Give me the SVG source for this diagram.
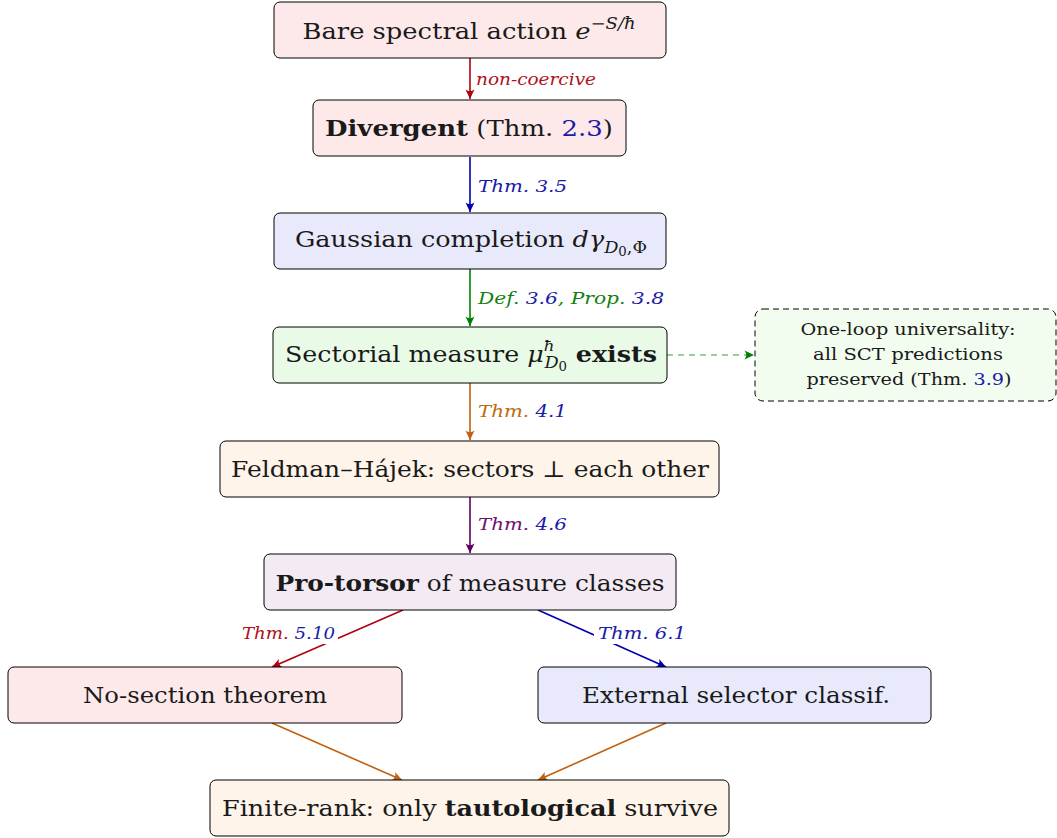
<svg xmlns="http://www.w3.org/2000/svg" width="1057" height="838" viewBox="0 0 1057 838">
<style>
.box{stroke:#000;stroke-width:1;}
.t{font-family:"DejaVu Serif","Liberation Serif",serif;font-size:23px;fill:#1a1a1a;text-anchor:middle;}
.n{font-family:"DejaVu Serif","Liberation Serif",serif;font-size:17px;fill:#1a1a1a;text-anchor:middle;}
.lab{font-family:"DejaVu Serif","Liberation Serif",serif;font-size:16px;font-style:italic;}
.e{fill:none;stroke-width:1.6;}
.b{font-weight:bold;}
.i{font-style:italic;}
.ref{fill:#1a1aa8;}
</style>
<defs>
<marker id="mr" markerWidth="12" markerHeight="10" refX="10" refY="5" orient="auto" markerUnits="userSpaceOnUse"><path d="M10,5 L0.5,0.5 Q4,5 0.5,9.5 Z" fill="#b00010"/></marker>
<marker id="mb" markerWidth="12" markerHeight="10" refX="10" refY="5" orient="auto" markerUnits="userSpaceOnUse"><path d="M10,5 L0.5,0.5 Q4,5 0.5,9.5 Z" fill="#0000b0"/></marker>
<marker id="mg" markerWidth="12" markerHeight="10" refX="10" refY="5" orient="auto" markerUnits="userSpaceOnUse"><path d="M10,5 L0.5,0.5 Q4,5 0.5,9.5 Z" fill="#008000"/></marker>
<marker id="mo" markerWidth="12" markerHeight="10" refX="10" refY="5" orient="auto" markerUnits="userSpaceOnUse"><path d="M10,5 L0.5,0.5 Q4,5 0.5,9.5 Z" fill="#c06010"/></marker>
<marker id="mp" markerWidth="12" markerHeight="10" refX="10" refY="5" orient="auto" markerUnits="userSpaceOnUse"><path d="M10,5 L0.5,0.5 Q4,5 0.5,9.5 Z" fill="#600060"/></marker>
</defs>

<g id="connectors">
<line class="e" x1="470" y1="58" x2="470" y2="99" stroke="#b00010" marker-end="url(#mr)"/>
<text class="lab" x="476" y="85" fill="#b01020" textLength="120" lengthAdjust="spacingAndGlyphs">non-coercive</text>
<line class="e" x1="470" y1="157" x2="470" y2="212" stroke="#0000b0" marker-end="url(#mb)"/>
<text class="lab ref" x="478" y="192" textLength="89" lengthAdjust="spacingAndGlyphs">Thm. 3.5</text>
<line class="e" x1="470" y1="269" x2="470" y2="326" stroke="#008000" marker-end="url(#mg)"/>
<text class="lab" x="478" y="304" fill="#108010" textLength="186" lengthAdjust="spacingAndGlyphs">Def. <tspan class="ref">3.6</tspan>, Prop. <tspan class="ref">3.8</tspan></text>
<line x1="667" y1="355" x2="754" y2="355" stroke="#33a033" stroke-width="1.2" stroke-dasharray="6,5" fill="none" marker-end="url(#mg)"/>
<line class="e" x1="470" y1="383" x2="470" y2="440" stroke="#c06010" marker-end="url(#mo)"/>
<text class="lab" x="478" y="417" fill="#c06a10" textLength="89" lengthAdjust="spacingAndGlyphs">Thm. <tspan class="ref">4.1</tspan></text>
<line class="e" x1="470" y1="497" x2="470" y2="553" stroke="#600060" marker-end="url(#mp)"/>
<text class="lab" x="478" y="530" fill="#701070" textLength="89" lengthAdjust="spacingAndGlyphs">Thm. <tspan class="ref">4.6</tspan></text>
<line class="e" x1="403" y1="610" x2="272" y2="667" stroke="#b00010" marker-end="url(#mr)"/>
<rect x="238" y="621" width="100" height="23" fill="#fff"/>
<text class="lab" x="242" y="639" fill="#b01020" textLength="93" lengthAdjust="spacingAndGlyphs">Thm. <tspan class="ref">5.10</tspan></text>
<line class="e" x1="538" y1="610" x2="666" y2="667" stroke="#0000b0" marker-end="url(#mb)"/>
<rect x="594" y="621" width="96" height="23" fill="#fff"/>
<text class="lab ref" x="598" y="639" textLength="88" lengthAdjust="spacingAndGlyphs">Thm. 6.1</text>
<line class="e" x1="272" y1="723" x2="402" y2="780" stroke="#c06010" marker-end="url(#mo)"/>
<line class="e" x1="666" y1="723" x2="538" y2="780" stroke="#c06010" marker-end="url(#mo)"/>
</g>

<g id="n1">
<rect class="box" x="274" y="2" width="392" height="56" rx="6" fill="#fde9ea"/>
<text class="t" x="469" y="39" textLength="333" lengthAdjust="spacingAndGlyphs">Bare spectral action <tspan class="i">e</tspan><tspan class="i" font-size="16" dy="-10">−S/ħ</tspan></text>
</g>
<g id="n2">
<rect class="box" x="313" y="100" width="313" height="56" rx="6" fill="#fde9ea"/>
<text class="t" x="469" y="136" textLength="288" lengthAdjust="spacingAndGlyphs"><tspan class="b">Divergent</tspan> (Thm. <tspan class="ref">2.3</tspan>)</text>
</g>
<g id="n3">
<rect class="box" x="274" y="213" width="392" height="56" rx="6" fill="#e9e9fc"/>
<text class="t" x="471" y="247" textLength="352" lengthAdjust="spacingAndGlyphs">Gaussian completion <tspan class="i">dγ</tspan><tspan font-size="16" dy="6"><tspan class="i">D</tspan><tspan font-size="12" dy="3">0</tspan><tspan dy="-3">,Φ</tspan></tspan></text>
</g>
<g id="n4">
<rect class="box" x="273" y="327" width="394" height="56" rx="6" fill="#e9fbe7"/>
<text class="t" x="471" y="362" textLength="372" lengthAdjust="spacingAndGlyphs">Sectorial measure <tspan class="i">μ</tspan><tspan class="i" font-size="15" dy="-11">ħ</tspan><tspan font-size="16" dx="-9" dy="17"><tspan class="i">D</tspan><tspan font-size="12" dy="3">0</tspan></tspan><tspan class="b" dy="-9"> exists</tspan></text>
</g>
<g id="n5">
<rect x="755" y="309" width="301" height="92" rx="8" fill="#f2fdf0" stroke="#000" stroke-width="1" stroke-dasharray="6,4"/>
<text class="n" x="908" y="335" textLength="215" lengthAdjust="spacingAndGlyphs">One-loop universality:</text>
<text class="n" x="908" y="360" textLength="190" lengthAdjust="spacingAndGlyphs">all SCT predictions</text>
<text class="n" x="909" y="385" textLength="205" lengthAdjust="spacingAndGlyphs">preserved (Thm. <tspan class="ref">3.9</tspan>)</text>
</g>
<g id="n6">
<rect class="box" x="220" y="441" width="499" height="56" rx="6" fill="#fef4ea"/>
<text class="t" x="470" y="477" textLength="478" lengthAdjust="spacingAndGlyphs">Feldman–Hájek: sectors ⊥ each other</text>
</g>
<g id="n7">
<rect class="box" x="264" y="554" width="412" height="56" rx="6" fill="#f4eaf4"/>
<text class="t" x="470" y="591" textLength="389" lengthAdjust="spacingAndGlyphs"><tspan class="b">Pro-torsor</tspan> of measure classes</text>
</g>
<g id="n8">
<rect class="box" x="8" y="667" width="394" height="56" rx="6" fill="#fde9ea"/>
<text class="t" x="205" y="703" textLength="244" lengthAdjust="spacingAndGlyphs">No-section theorem</text>
</g>
<g id="n9">
<rect class="box" x="538" y="667" width="393" height="56" rx="6" fill="#e9e9fc"/>
<text class="t" x="736" y="703" textLength="308" lengthAdjust="spacingAndGlyphs">External selector classif.</text>
</g>
<g id="n10">
<rect class="box" x="210" y="780" width="519" height="56" rx="6" fill="#fef4ea"/>
<text class="t" x="470" y="816" textLength="496" lengthAdjust="spacingAndGlyphs">Finite-rank: only <tspan class="b">tautological</tspan> survive</text>
</g>
</svg>
